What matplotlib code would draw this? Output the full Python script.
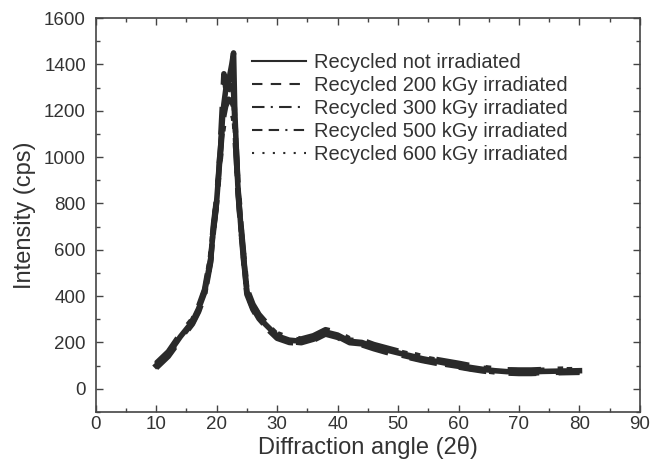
import matplotlib
matplotlib.use("Agg")
import matplotlib.pyplot as plt
from matplotlib.ticker import MultipleLocator

plt.rcParams['font.family'] = ['Liberation Sans', 'DejaVu Sans']

# diffraction angle (2 theta), shared grid
two_theta = [10, 12, 14, 16, 17, 18, 19, 19.5, 20, 20.5, 21, 21.2, 21.5, 22, 22.5, 22.8,
             23, 23.5, 24, 24.5, 25, 26, 27, 28, 30, 32, 34, 36, 38, 40, 42, 44, 46, 48,
             50, 52, 54, 56, 58, 60, 62, 64, 66, 68, 70, 72, 74, 76, 78, 80]

# intensity (cps)
not_irr = [100, 150, 225, 290, 345, 415, 560, 700, 810, 980, 1180, 1230, 1290, 1330, 1400, 1450,
           1200, 880, 700, 560, 420, 355, 310, 280, 228, 210, 205, 220, 245, 232, 205, 200, 182, 168,
           155, 143, 130, 120, 110, 102, 92, 84, 78, 74, 73, 73, 75, 76, 77, 78]
irr_200 = [90, 140, 212, 280, 332, 402, 545, 688, 798, 1000, 1250, 1360, 1300, 1280, 1330, 1300,
           1150, 860, 688, 542, 408, 342, 298, 268, 218, 200, 196, 210, 236, 222, 196, 190, 173, 158,
           146, 134, 122, 112, 102, 94, 85, 77, 71, 68, 66, 66, 68, 69, 70, 71]
irr_300 = [110, 160, 236, 300, 355, 428, 573, 715, 822, 990, 1160, 1200, 1260, 1300, 1310, 1280,
           1170, 900, 715, 573, 433, 365, 321, 291, 238, 219, 215, 229, 255, 243, 215, 210, 191, 177,
           163, 152, 139, 128, 119, 110, 100, 92, 86, 82, 81, 81, 83, 84, 85, 87]
irr_500 = [95, 145, 218, 285, 338, 408, 552, 693, 803, 970, 1140, 1180, 1220, 1250, 1240, 1220,
           1130, 870, 693, 550, 413, 348, 303, 273, 222, 204, 199, 214, 239, 226, 199, 194, 176, 162,
           149, 137, 125, 115, 105, 97, 87, 79, 73, 69, 68, 68, 70, 71, 72, 73]
irr_600 = [105, 155, 230, 296, 351, 422, 567, 707, 817, 960, 1110, 1150, 1180, 1200, 1190, 1170,
           1100, 890, 707, 567, 427, 360, 316, 286, 233, 215, 210, 225, 251, 238, 210, 206, 187, 173,
           160, 148, 135, 125, 115, 107, 97, 89, 83, 79, 78, 78, 80, 81, 82, 83]

labels = ["Recycled not irradiated", "Recycled 200 kGy irradiated", "Recycled 300 kGy irradiated",
          "Recycled 500 kGy irradiated", "Recycled 600 kGy irradiated"]
series = [not_irr, irr_200, irr_300, irr_500, irr_600]
styles = ['-', (0, (5, 4)), (0, (6, 3, 1, 3)), (0, (5, 3, 5, 3, 1, 3)), (0, (1, 4))]

fig = plt.figure(figsize=(6.51, 4.66), dpi=100)
ax = fig.add_axes([0.147, 0.116, 0.836, 0.845])

ink = '#2a2a2a'
for ys, lab, ls in zip(series, labels, styles):
    ax.plot(two_theta, ys, linestyle=ls, color=ink, linewidth=4.0, label=lab)

ax.set_xlim(0, 90)
ax.set_ylim(-100, 1600)
ax.xaxis.set_major_locator(MultipleLocator(10))
ax.xaxis.set_minor_locator(MultipleLocator(5))
ax.yaxis.set_major_locator(MultipleLocator(200))
ax.yaxis.set_minor_locator(MultipleLocator(100))
ax.tick_params(which='both', direction='in', top=True, right=True, color='#444', width=1.0)
ax.tick_params(which='major', length=5, labelsize=13.5, labelcolor='#333')
ax.tick_params(which='minor', length=3)
ax.tick_params(axis='x', which='major', pad=3)
ax.tick_params(axis='y', which='major', pad=7)
for sp in ax.spines.values():
    sp.set_color('#444')
    sp.set_linewidth(1.2)

ax.set_xlabel("Diffraction angle (2θ)", fontsize=17, color='#333', labelpad=2)
ax.set_ylabel("Intensity (cps)", fontsize=17, color='#333', labelpad=6)

leg = ax.legend(loc='upper right', bbox_to_anchor=(0.868, 0.912), frameon=False, fontsize=14.5,
                handlelength=2.7, handletextpad=0.4, labelspacing=0.2, borderpad=0, borderaxespad=0)
for h in leg.get_lines():
    h.set_linewidth(1.5)
for t in leg.get_texts():
    t.set_color('#333')

fig.savefig("out.png", dpi=100)
